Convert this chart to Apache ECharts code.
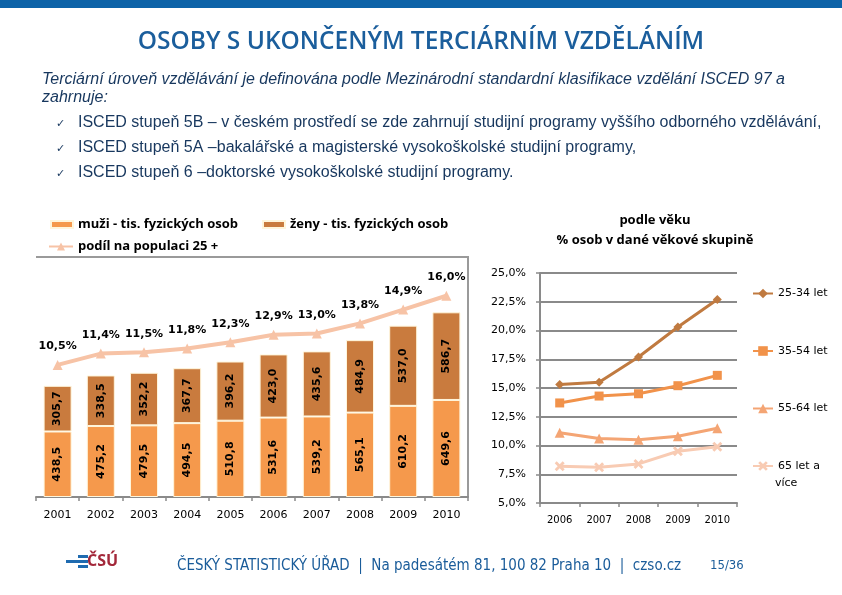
<!DOCTYPE html>
<html><head><meta charset="utf-8">
<script src="https://cdn.jsdelivr.net/npm/echarts@6/dist/echarts.min.js"></script>
<style>html,body{margin:0;padding:0;background:#fff}#c{width:842px;height:595px}</style>
</head><body><div id="c"></div>
<script>
// ---- data ----
const years = ['2001','2002','2003','2004','2005','2006','2007','2008','2009','2010'];
const men = [438.5,475.2,479.5,494.5,510.8,531.6,539.2,565.1,610.2,649.6];
const women = [305.7,338.5,352.2,367.7,396.2,423.0,435.6,484.9,537.0,586.7];
const share = [10.5,11.4,11.5,11.8,12.3,12.9,13.0,13.8,14.9,16.0];
const ageYears = ['2006','2007','2008','2009','2010'];
const age2534 = [15.3,15.5,17.7,20.3,22.7];
const age3554 = [13.7,14.3,14.5,15.2,16.1];
const age5564 = [11.1,10.6,10.5,10.8,11.5];
const age65 = [8.2,8.1,8.4,9.5,9.9];
const names = ['muži - tis. fyzických osob','ženy - tis. fyzických osob','podíl na populaci 25 +'];
const ageNames = ['25-34 let','35-54 let','55-64 let','65 let a více'];

const fmt1 = v => v.toFixed(1).replace('.', ',');
const chart = echarts.init(document.getElementById('c'));
const TXT = '#17375e';
const bodyFont = '16px "Liberation Sans"';
const footFont = '15px "DejaVu Sans Condensed", "Liberation Sans Narrow"';
const xPath = 'path://M2,0 L5,3 L8,0 L10,2 L7,5 L10,8 L8,10 L5,7 L2,10 L0,8 L3,5 L0,2 Z';

const graphic = [
  {type:'rect', shape:{x:0,y:0,width:842,height:8}, style:{fill:'#0d63a8'}},
  {type:'text', style:{text:'OSOBY S UKONČENÝM TERCIÁRNÍM VZDĚLÁNÍM', x:421, y:42, textAlign:'center', textVerticalAlign:'middle', font:'600 24.5px "Open Sans"', fill:'#1b5e9c'}},
  {type:'text', style:{text:'Terciární úroveň vzdělávání je definována podle Mezinárodní standardní klasifikace vzdělání ISCED 97 a', x:42, y:80, textVerticalAlign:'middle', font:'italic '+bodyFont, fill:TXT}},
  {type:'text', style:{text:'zahrnuje:', x:42, y:98, textVerticalAlign:'middle', font:'italic '+bodyFont, fill:TXT}},
  {type:'text', style:{text:'✓', x:56, y:124, textVerticalAlign:'middle', font:'11px "DejaVu Sans"', fill:TXT}},
  {type:'text', style:{text:'✓', x:56, y:149, textVerticalAlign:'middle', font:'11px "DejaVu Sans"', fill:TXT}},
  {type:'text', style:{text:'✓', x:56, y:174, textVerticalAlign:'middle', font:'11px "DejaVu Sans"', fill:TXT}},
  {type:'text', style:{text:'ISCED stupeň 5B – v českém prostředí se zde zahrnují studijní programy vyššího odborného vzdělávání,', x:78, y:123, textVerticalAlign:'middle', font:bodyFont, fill:TXT}},
  {type:'text', style:{text:'ISCED stupeň 5A –bakalářské a magisterské vysokoškolské studijní programy,', x:78, y:148, textVerticalAlign:'middle', font:bodyFont, fill:TXT}},
  {type:'text', style:{text:'ISCED stupeň 6 –doktorské vysokoškolské studijní programy.', x:78, y:173, textVerticalAlign:'middle', font:bodyFont, fill:TXT}},
  {type:'text', style:{text:'podle věku', x:655, y:220, textAlign:'center', textVerticalAlign:'middle', font:'bold 13px "Open Sans"', fill:'#000'}},
  {type:'text', style:{text:'% osob v dané věkové skupině', x:655, y:240, textAlign:'center', textVerticalAlign:'middle', font:'bold 13px "Open Sans"', fill:'#000'}},
  {type:'polyline', shape:{points:[[36,257],[468,257],[468,497]]}, style:{stroke:'#9a9a9a', lineWidth:2, fill:null}},
  {type:'text', style:{text:'více', x:775, y:483, textVerticalAlign:'middle', font:'11px "DejaVu Sans"', fill:'#000'}},
  // footer
  {type:'rect', shape:{x:66,y:560,width:22,height:3}, style:{fill:'#1f6bb0'}},
  {type:'rect', shape:{x:78,y:555,width:10,height:3}, style:{fill:'#1f6bb0'}},
  {type:'rect', shape:{x:78,y:565,width:10,height:3}, style:{fill:'#1f6bb0'}},
  {type:'text', style:{text:'ČSÚ', x:87, y:561, textVerticalAlign:'middle', font:'bold 16px "Open Sans"', fill:'#a3283a'}},
  {type:'text', style:{text:'ČESKÝ STATISTICKÝ ÚŘAD  |  Na padesátém 81, 100 82 Praha 10  |  czso.cz', x:177, y:566, textVerticalAlign:'middle', font:footFont, fill:'#1a5c9a'}},
  {type:'text', style:{text:'15/36', x:710, y:566, textVerticalAlign:'middle', font:'13px "DejaVu Sans Condensed", "Liberation Sans Narrow"', fill:'#1a5c9a'}}
];

const option = {
  animation:false,
  backgroundColor:'#fff',
  graphic: graphic,
  legend:[
    {data:[names[0],names[1]], left:50, top:218, padding:0, itemWidth:22, itemHeight:7, itemGap:24, icon:'rect',
     textStyle:{fontFamily:'Open Sans', fontWeight:'bold', fontSize:13, color:'#000'}},
    {data:[names[2]], left:48, top:240, padding:0, itemWidth:24, itemHeight:10,
     textStyle:{fontFamily:'Open Sans', fontWeight:'bold', fontSize:13, color:'#000'}},
    {data:ageNames, orient:'vertical', left:752, top:288, padding:0, itemWidth:20, itemHeight:12, itemGap:46.5,
     formatter: n => n === '65 let a více' ? '65 let a' : n,
     textStyle:{fontFamily:'DejaVu Sans', fontSize:11, color:'#000'}}
  ],
  grid:[
    {left:36, right:374, top:258, bottom:98},
    {left:540, right:105, top:273, bottom:92}
  ],
  xAxis:[
    {type:'category', gridIndex:0, data:years,
     axisLine:{lineStyle:{color:'#8a8a8a', width:2}},
     axisTick:{show:true, length:4, lineStyle:{color:'#8a8a8a', width:1.5}},
     axisLabel:{fontFamily:'DejaVu Sans', fontSize:11, color:'#000', margin:13}},
    {type:'category', gridIndex:1, data:ageYears,
     axisLine:{lineStyle:{color:'#8a8a8a', width:2}},
     axisTick:{show:true, length:4, lineStyle:{color:'#8a8a8a', width:1.5}},
     axisLabel:{fontFamily:'DejaVu Sans', fontSize:10, color:'#000', margin:12}}
  ],
  yAxis:[
    {type:'value', gridIndex:0, min:0, max:1600, show:false},
    {type:'value', gridIndex:0, min:0, max:19, show:false},
    {type:'value', gridIndex:1, min:5, max:25, interval:2.5,
     axisLine:{show:true, lineStyle:{color:'#8a8a8a', width:2}},
     axisTick:{show:true, length:4, lineStyle:{color:'#8a8a8a', width:1.5}},
     splitLine:{lineStyle:{color:'#8a8a8a', width:2}},
     axisLabel:{fontFamily:'DejaVu Sans', fontSize:11, color:'#000', margin:14, formatter:v => fmt1(v)+'%'}}
  ],
  series:[
    {name:names[0], type:'bar', stack:'p', xAxisIndex:0, yAxisIndex:0, data:men, barWidth:28,
     itemStyle:{color:'#f5994c', borderColor:'#fff6dc', borderWidth:1},
     label:{show:true, position:'inside', rotate:90, fontFamily:'DejaVu Sans', fontWeight:'bold', fontSize:11, color:'#000', formatter:p => fmt1(p.value)}},
    {name:names[1], type:'bar', stack:'p', xAxisIndex:0, yAxisIndex:0, data:women, barWidth:28,
     itemStyle:{color:'#c97b3e', borderColor:'#fff6dc', borderWidth:1},
     label:{show:true, position:'inside', rotate:90, fontFamily:'DejaVu Sans', fontWeight:'bold', fontSize:11, color:'#000', formatter:p => fmt1(p.value)}},
    {name:names[2], type:'line', xAxisIndex:0, yAxisIndex:1, data:share, symbol:'triangle', symbolSize:10,
     lineStyle:{color:'#f7c3a6', width:4}, itemStyle:{color:'#f7c3a6'},
     label:{show:true, position:'top', distance:8, fontFamily:'DejaVu Sans', fontWeight:'bold', fontSize:11, color:'#000', formatter:p => fmt1(p.value)+'%'}},
    {name:ageNames[0], type:'line', xAxisIndex:1, yAxisIndex:2, data:age2534, symbol:'diamond', symbolSize:9,
     lineStyle:{color:'#c07a40', width:3}, itemStyle:{color:'#c07a40'}},
    {name:ageNames[1], type:'line', xAxisIndex:1, yAxisIndex:2, data:age3554, symbol:'rect', symbolSize:9,
     lineStyle:{color:'#f1924a', width:3}, itemStyle:{color:'#f1924a'}},
    {name:ageNames[2], type:'line', xAxisIndex:1, yAxisIndex:2, data:age5564, symbol:'triangle', symbolSize:10,
     lineStyle:{color:'#f4a574', width:3}, itemStyle:{color:'#f4a574'}},
    {name:ageNames[3], type:'line', xAxisIndex:1, yAxisIndex:2, data:age65, symbol:xPath, symbolSize:10,
     lineStyle:{color:'#f8cbb3', width:3}, itemStyle:{color:'#f8cbb3'}}
  ]
};
chart.setOption(option);
</script>
</body></html>
